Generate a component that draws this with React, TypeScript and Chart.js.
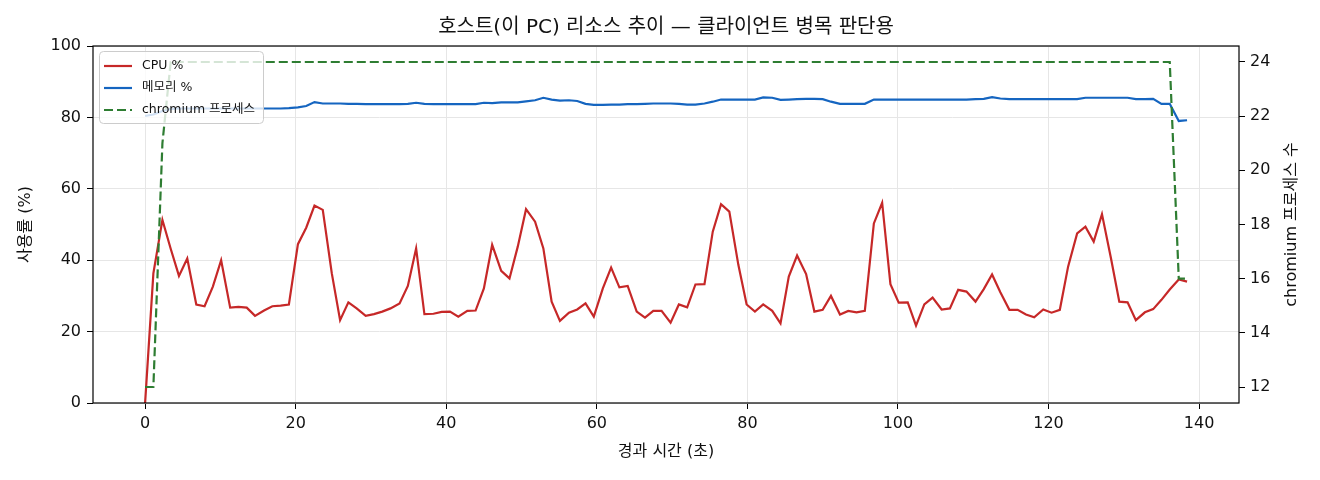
import { useEffect, useRef } from 'react';
import { Chart, ChartConfiguration, registerables } from 'chart.js';

Chart.register(...registerables);

const FONT = '"DejaVu Sans", "Noto Sans CJK KR", sans-serif';

const TITLE = '호스트(이 PC) 리소스 추이 — 클라이언트 병목 판단용';
const X_LABEL = '경과 시간 (초)';
const Y_LABEL = '사용률 (%)';
const Y1_LABEL = 'chromium 프로세스 수';
const SERIES_NAMES = ['CPU %', '메모리 %', 'chromium 프로세스'];
const SERIES_COLORS = ['#c62828', '#1565c0', '#2e7d32'];

// elapsed seconds of each sample
const elapsed = [
  0, 1.1, 2.3, 3.4, 4.5, 5.6, 6.8, 7.9, 9.0, 10.1,
  11.3, 12.4, 13.5, 14.6, 15.8, 16.9, 18.0, 19.1, 20.3, 21.4,
  22.5, 23.6, 24.8, 25.9, 27.0, 28.1, 29.3, 30.4, 31.5, 32.6,
  33.8, 34.9, 36.0, 37.1, 38.3, 39.4, 40.5, 41.6, 42.8, 43.9,
  45.0, 46.1, 47.3, 48.4, 49.5, 50.6, 51.8, 52.9, 54.0, 55.1,
  56.3, 57.4, 58.5, 59.6, 60.8, 61.9, 63.0, 64.1, 65.3, 66.4,
  67.5, 68.6, 69.8, 70.9, 72.0, 73.1, 74.3, 75.4, 76.5, 77.6,
  78.8, 79.9, 81.0, 82.1, 83.3, 84.4, 85.5, 86.6, 87.8, 88.9,
  90.0, 91.1, 92.3, 93.4, 94.5, 95.6, 96.8, 97.9, 99.0, 100.1,
  101.3, 102.4, 103.5, 104.6, 105.8, 106.9, 108.0, 109.1, 110.3, 111.4,
  112.5, 113.6, 114.8, 115.9, 117.0, 118.1, 119.3, 120.4, 121.5, 122.6,
  123.8, 124.9, 126.0, 127.1, 128.3, 129.4, 130.5, 131.6, 132.8, 133.9,
  135.0, 136.1, 137.3, 138.4,
];

const cpuPct = [
  0, 36.3, 51.3, 43.2, 35.6, 40.5, 27.6, 27.1, 32.6, 40.0,
  26.7, 26.9, 26.7, 24.4, 25.9, 27.1, 27.3, 27.6, 44.5, 49.1,
  55.3, 54.1, 36.3, 23.2, 28.2, 26.5, 24.4, 24.9, 25.6, 26.5,
  27.9, 32.8, 43.3, 24.9, 25.0, 25.5, 25.6, 24.2, 25.8, 25.9,
  32.1, 44.3, 37.0, 34.9, 43.8, 54.3, 50.8, 43.3, 28.4, 23.0,
  25.3, 26.2, 27.9, 24.2, 32.1, 37.9, 32.4, 32.8, 25.6, 23.9,
  25.8, 25.8, 22.5, 27.6, 26.8, 33.2, 33.3, 48.0, 55.7, 53.6,
  38.7, 27.6, 25.6, 27.6, 25.8, 22.3, 35.4, 41.3, 36.1, 25.6,
  26.1, 30.0, 24.8, 25.8, 25.4, 25.8, 50.3, 56.1, 33.3, 28.1,
  28.2, 21.7, 27.6, 29.5, 26.2, 26.5, 31.7, 31.2, 28.4, 31.9,
  36.0, 31.0, 26.1, 26.1, 24.8, 24.0, 26.2, 25.3, 26.1, 38.2,
  47.5, 49.4, 45.2, 52.9, 40.5, 28.4, 28.2, 23.2, 25.4, 26.3,
  28.9, 31.8, 34.6, 34.0,
];

const memPct = [
  80.4, 80.8, 81.8, 82.4, 82.5, 82.5, 82.5, 82.5, 82.5, 82.5,
  82.5, 82.5, 82.5, 82.5, 82.5, 82.5, 82.5, 82.6, 82.8, 83.2,
  84.3, 83.9, 83.9, 83.9, 83.8, 83.8, 83.7, 83.7, 83.7, 83.7,
  83.7, 83.8, 84.1, 83.8, 83.7, 83.7, 83.7, 83.7, 83.7, 83.7,
  84.1, 84.0, 84.2, 84.2, 84.2, 84.5, 84.8, 85.5, 85.0, 84.7,
  84.8, 84.6, 83.8, 83.5, 83.5, 83.6, 83.6, 83.7, 83.7, 83.8,
  83.9, 83.9, 83.9, 83.8, 83.6, 83.6, 83.9, 84.4, 85.0, 85.0,
  85.0, 85.0, 85.0, 85.6, 85.5, 84.9, 85.0, 85.1, 85.2, 85.2,
  85.1, 84.4, 83.8, 83.8, 83.8, 83.8, 85.0, 85.0, 85.0, 85.0,
  85.0, 85.0, 85.0, 85.0, 85.0, 85.0, 85.0, 85.0, 85.1, 85.2,
  85.7, 85.3, 85.1, 85.1, 85.1, 85.1, 85.1, 85.1, 85.1, 85.1,
  85.1, 85.5, 85.5, 85.5, 85.5, 85.5, 85.5, 85.1, 85.1, 85.2,
  83.8, 83.8, 79.0, 79.2,
];

const chromiumCount = [
  12, 12, 21, 24, 24, 24, 24, 24, 24, 24,
  24, 24, 24, 24, 24, 24, 24, 24, 24, 24,
  24, 24, 24, 24, 24, 24, 24, 24, 24, 24,
  24, 24, 24, 24, 24, 24, 24, 24, 24, 24,
  24, 24, 24, 24, 24, 24, 24, 24, 24, 24,
  24, 24, 24, 24, 24, 24, 24, 24, 24, 24,
  24, 24, 24, 24, 24, 24, 24, 24, 24, 24,
  24, 24, 24, 24, 24, 24, 24, 24, 24, 24,
  24, 24, 24, 24, 24, 24, 24, 24, 24, 24,
  24, 24, 24, 24, 24, 24, 24, 24, 24, 24,
  24, 24, 24, 24, 24, 24, 24, 24, 24, 24,
  24, 24, 24, 24, 24, 24, 24, 24, 24, 24,
  24, 24, 16, 16,
];

const xTicks = [0, 20, 40, 60, 80, 100, 120, 140];
const pctTicks = [0, 20, 40, 60, 80, 100];
const procTicks = [12, 14, 16, 18, 20, 22, 24];

const DASH = [9, 4];

const toPoints = (ys: number[]) => ys.map((y, i) => ({ x: elapsed[i], y }));

// frame, title, right-hand label and the in-plot legend
const decorPlugin = {
  id: 'decor',
  afterDraw(chart: Chart) {
    const { ctx, chartArea: a } = chart;
    ctx.save();
    ctx.strokeStyle = '#000';
    ctx.lineWidth = 1.2;
    ctx.setLineDash([]);
    ctx.strokeRect(a.left, a.top, a.right - a.left, a.bottom - a.top);

    ctx.fillStyle = '#111';
    ctx.textAlign = 'center';
    ctx.textBaseline = 'middle';
    ctx.font = `20px ${FONT}`;
    ctx.fillText(TITLE, (a.left + a.right) / 2, 28);

    ctx.save();
    ctx.translate(1292, (a.top + a.bottom) / 2);
    ctx.rotate(-Math.PI / 2);
    ctx.font = `16px ${FONT}`;
    ctx.fillText(Y1_LABEL, 0, 0);
    ctx.restore();

    // legend box
    ctx.beginPath();
    ctx.roundRect(99.5, 51.5, 164, 72, 4);
    ctx.fillStyle = 'rgba(255,255,255,0.8)';
    ctx.fill();
    ctx.strokeStyle = '#cccccc';
    ctx.lineWidth = 1;
    ctx.stroke();

    ctx.font = `12.5px ${FONT}`;
    ctx.textAlign = 'left';
    SERIES_NAMES.forEach((name, i) => {
      const y = 66 + 22 * i;
      ctx.beginPath();
      ctx.strokeStyle = SERIES_COLORS[i];
      ctx.lineWidth = 2.2;
      ctx.setLineDash(i === 2 ? DASH : []);
      ctx.moveTo(104, y);
      ctx.lineTo(132, y);
      ctx.stroke();
      ctx.fillStyle = '#111';
      ctx.fillText(name, 142, y);
    });
    ctx.restore();
  },
};

const tickFont = { family: FONT, size: 16 };
const titleFont = { family: FONT, size: 16 };

export default function App() {
  const canvasRef = useRef<HTMLCanvasElement>(null);
  const chartRef = useRef<Chart | null>(null);

  useEffect(() => {
    if (!canvasRef.current) return;
    if (chartRef.current) chartRef.current.destroy();

    const config: ChartConfiguration = {
      type: 'line',
      data: {
        datasets: [
          {
            label: SERIES_NAMES[0],
            data: toPoints(cpuPct),
            borderColor: SERIES_COLORS[0],
            borderWidth: 2.2,
            pointRadius: 0,
            tension: 0,
            yAxisID: 'y',
            order: 3,
          },
          {
            label: SERIES_NAMES[1],
            data: toPoints(memPct),
            borderColor: SERIES_COLORS[1],
            borderWidth: 2.2,
            pointRadius: 0,
            tension: 0,
            yAxisID: 'y',
            order: 2,
          },
          {
            label: SERIES_NAMES[2],
            data: toPoints(chromiumCount),
            borderColor: SERIES_COLORS[2],
            borderWidth: 2.2,
            borderDash: DASH,
            pointRadius: 0,
            tension: 0,
            yAxisID: 'y1',
            order: 1,
          },
        ],
      },
      options: {
        responsive: false,
        animation: false,
        devicePixelRatio: 1,
        layout: { padding: { top: 46, left: 0, right: 0, bottom: 0 } },
        plugins: {
          legend: { display: false },
          title: { display: false },
          tooltip: { enabled: false },
        },
        scales: {
          x: {
            type: 'linear',
            min: -6.92,
            max: 145.3,
            afterBuildTicks: (s: any) => { s.ticks = xTicks.map(v => ({ value: v })); },
            afterFit: (s: any) => { s.height = 77; },
            border: { display: false },
            grid: { color: '#e6e6e6', tickColor: '#000', tickLength: 6 },
            ticks: { font: tickFont, color: '#111', padding: 5, maxRotation: 0 },
            title: { display: true, text: X_LABEL, font: titleFont, color: '#111', padding: { top: 0, bottom: 19 } },
          },
          y: {
            type: 'linear',
            position: 'left',
            min: 0,
            max: 100,
            afterBuildTicks: (s: any) => { s.ticks = pctTicks.map(v => ({ value: v })); },
            afterFit: (s: any) => { s.width = 93; },
            border: { display: false },
            grid: { color: '#e6e6e6', tickColor: '#000', tickLength: 6 },
            ticks: { font: tickFont, color: '#111', padding: 6 },
            title: { display: true, text: Y_LABEL, font: titleFont, color: '#111', padding: { top: 16, bottom: 0 } },
          },
          y1: {
            type: 'linear',
            position: 'right',
            min: 11.41,
            max: 24.59,
            afterBuildTicks: (s: any) => { s.ticks = procTicks.map(v => ({ value: v })); },
            afterFit: (s: any) => { s.width = 81; },
            border: { display: false },
            grid: { drawOnChartArea: false, tickColor: '#000', tickLength: 6 },
            ticks: { font: tickFont, color: '#111', padding: 5 },
          },
        },
      },
      plugins: [decorPlugin],
    };

    chartRef.current = new Chart(canvasRef.current, config);

    return () => {
      if (chartRef.current) {
        chartRef.current.destroy();
        chartRef.current = null;
      }
    };
  }, []);

  return (
    <div style={{ position: 'fixed', left: 0, top: 0, width: 1320, height: 480, background: '#fff' }}>
      <canvas ref={canvasRef} width={1320} height={480} style={{ width: 1320, height: 480 }}></canvas>
    </div>
  );
}
